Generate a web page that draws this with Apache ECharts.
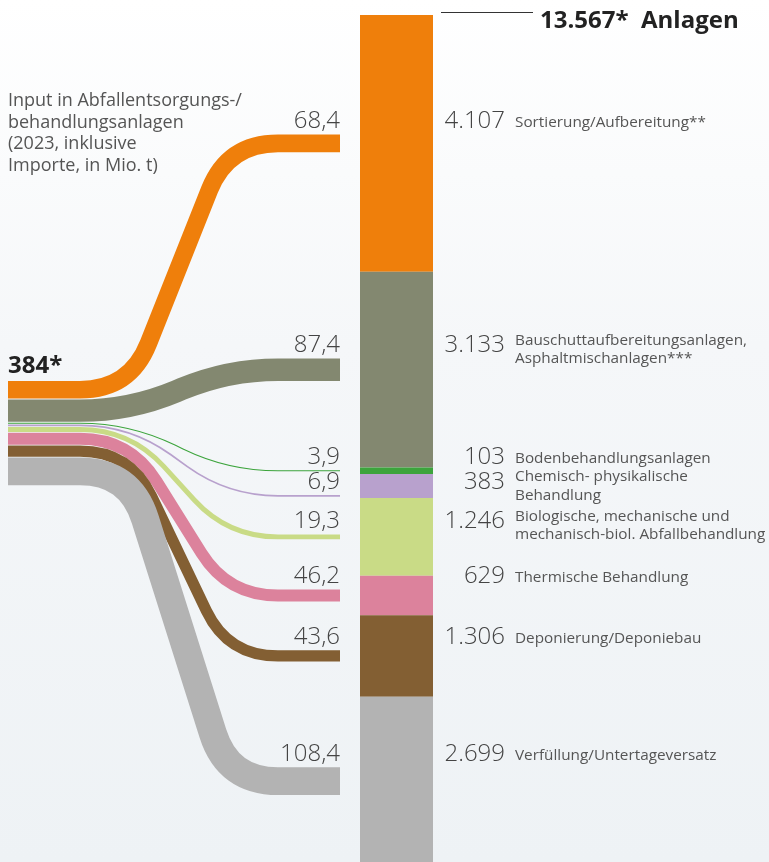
<!DOCTYPE html>
<html>
<head>
<meta charset="utf-8">
<script src="https://cdn.jsdelivr.net/npm/echarts@6/dist/echarts.min.js"></script>
<style>
  html, body { margin: 0; padding: 0; }
  #chart { width: 769px; height: 862px; }
</style>
</head>
<body>
<div id="chart"></div>
<script>
// data
const categories = [
  'Sortierung/Aufbereitung**',
  'Bauschuttaufbereitungsanlagen,\nAsphaltmischanlagen***',
  'Bodenbehandlungsanlagen',
  'Chemisch- physikalische\nBehandlung',
  'Biologische, mechanische und\nmechanisch-biol. Abfallbehandlung',
  'Thermische Behandlung',
  'Deponierung/Deponiebau',
  'Verfüllung/Untertageversatz'
];
const inputMt = [68.4, 87.4, 3.9, 6.9, 19.3, 46.2, 43.6, 108.4]; // Mio. t
const plants = [4107, 3133, 103, 383, 1246, 629, 1306, 2699];   // Anlagen
const totalInput = '384*';
const totalPlants = '13.567*';
const inputTitle = 'Input in Abfallentsorgungs-/\nbehandlungsanlagen\n(2023, inklusive\nImporte, in Mio. t)';

const colors = ['#ef7f0b', '#838870', '#3ca43c', '#b8a1cd', '#c9db86', '#dc829c', '#835f33', '#b3b3b3'];

// layout
const plantMax = 13550;
const pxPerMt = 0.257;
const srcX = 8, srcTop = 381, srcGap = 0.8;
const endX = 340;
const cornerA = 130, cornerB = 228, cornerR = 50; // virtual corners of the flow polyline
const font = '"Open Sans", "Noto Sans", sans-serif';

function fmtInt(v) { return String(v).replace(/\B(?=(\d{3})+(?!\d))/g, '.'); }
function fmtDec(v) { return v.toFixed(1).replace('.', ','); }

// middle of each bar segment, in Anlagen
const plantMid = [];
let acc = 0;
plants.forEach(v => { plantMid.push(acc + v / 2); acc += v; });

// where each flow leaves the 384 stack (px)
const srcMid = [];
let sy = srcTop;
inputMt.forEach(v => { const w = v * pxPerMt; srcMid.push(sy + w / 2); sy += w + srcGap; });

// flow ends follow the segment middles, pushed apart so labels don't collide
function endYs(api) {
  const ys = [];
  let prev = -Infinity;
  for (let i = 0; i < plantMid.length; i++) {
    let y = api.coord([0, plantMid[i]])[1];
    y = Math.max(y, prev + 25);
    ys.push(y);
    prev = y;
  }
  return ys;
}

// horizontal - diagonal - horizontal, with rounded corners
function flowPath(x0, y0, xa, xb, y1, x1) {
  const dx = xb - xa, dy = y1 - y0;
  const len = Math.sqrt(dx * dx + dy * dy);
  const ux = dx / len, uy = dy / len;
  const r = Math.min(cornerR, len / 2);
  return 'M' + x0 + ',' + y0 +
    ' L' + (xa - r) + ',' + y0 +
    ' Q' + xa + ',' + y0 + ' ' + (xa + ux * r) + ',' + (y0 + uy * r) +
    ' L' + (xb - ux * r) + ',' + (y1 - uy * r) +
    ' Q' + xb + ',' + y1 + ' ' + (xb + r) + ',' + y1 +
    ' L' + x1 + ',' + y1;
}

function renderFlow(params, api) {
  const i = params.dataIndex;
  const w = api.value(0) * pxPerMt;
  const y0 = srcMid[i];
  const y1 = endYs(api)[i];
  const x0 = api.coord([srcX, 0])[0];
  const xa = api.coord([cornerA, 0])[0];
  const xb = api.coord([cornerB, 0])[0];
  const x1 = api.coord([endX, 0])[0];
  const labelY = y1 - w / 2 - 13;
  const twoLines = categories[i].indexOf('\n') >= 0;
  return {
    type: 'group',
    children: [
      {
        type: 'path',
        shape: { pathData: flowPath(x0, y0, xa, xb, y1, x1) },
        style: { fill: null, stroke: colors[i], lineWidth: w, lineCap: 'butt', lineJoin: 'round' }
      },
      {
        type: 'text',
        style: {
          text: fmtDec(inputMt[i]), x: x1, y: labelY,
          align: 'right', verticalAlign: 'middle',
          fontSize: 24, fontWeight: 300, fontFamily: font, fill: '#444'
        }
      },
      {
        type: 'text',
        style: {
          text: fmtInt(plants[i]), x: 505, y: labelY,
          align: 'right', verticalAlign: 'middle',
          fontSize: 24, fontWeight: 300, fontFamily: font, fill: '#444'
        }
      },
      {
        type: 'text',
        style: {
          text: categories[i], x: 515, y: labelY + (twoLines ? 4 : 1),
          align: 'left', verticalAlign: 'middle', lineHeight: 18.5,
          fontSize: 15.3, fontFamily: font, fill: '#555'
        }
      }
    ]
  };
}

const chart = echarts.init(document.getElementById('chart'));

const barSeries = categories.map((name, i) => ({
  type: 'bar',
  name: name,
  xAxisIndex: 0,
  yAxisIndex: 0,
  stack: 'anlagen',
  barWidth: '100%',
  data: [plants[i]],
  itemStyle: { color: colors[i] },
  silent: true
}));

const option = {
  animation: false,
  backgroundColor: {
    type: 'linear', x: 0, y: 0, x2: 0, y2: 1,
    colorStops: [
      { offset: 0, color: '#ffffff' },
      { offset: 0.4, color: '#f5f7f9' },
      { offset: 1, color: '#eef2f5' }
    ]
  },
  grid: [
    { left: 360, width: 73, top: 15, bottom: 0 },
    { left: 0, right: 0, top: 15, bottom: 0 }
  ],
  xAxis: [
    { type: 'category', gridIndex: 0, data: ['Anlagen'], show: false },
    { type: 'value', gridIndex: 1, min: 0, max: 769, show: false }
  ],
  yAxis: [
    { type: 'value', gridIndex: 0, inverse: true, min: 0, max: plantMax, show: false },
    { type: 'value', gridIndex: 1, inverse: true, min: 0, max: plantMax, show: false }
  ],
  graphic: [
    { type: 'line', shape: { x1: 441, y1: 12.5, x2: 533, y2: 12.5 }, style: { stroke: '#333', lineWidth: 1 } },
    {
      type: 'text', x: 540, y: 21,
      style: { text: totalPlants + '  Anlagen', fontSize: 24, fontWeight: 'bold', fontFamily: font, fill: '#222', verticalAlign: 'middle' }
    },
    {
      type: 'text', x: 8, y: 366,
      style: { text: totalInput, fontSize: 24, fontWeight: 'bold', fontFamily: font, fill: '#222', verticalAlign: 'middle' }
    },
    {
      type: 'text', x: 8, y: 90,
      style: { text: inputTitle, fontSize: 18, lineHeight: 21.6, fontFamily: font, fill: '#555', verticalAlign: 'top' }
    }
  ],
  series: barSeries.concat([{
    type: 'custom',
    xAxisIndex: 1,
    yAxisIndex: 1,
    silent: true,
    renderItem: renderFlow,
    data: inputMt.map((v, i) => [v, plantMid[i]])
  }])
};

chart.setOption(option);
</script>
</body>
</html>
